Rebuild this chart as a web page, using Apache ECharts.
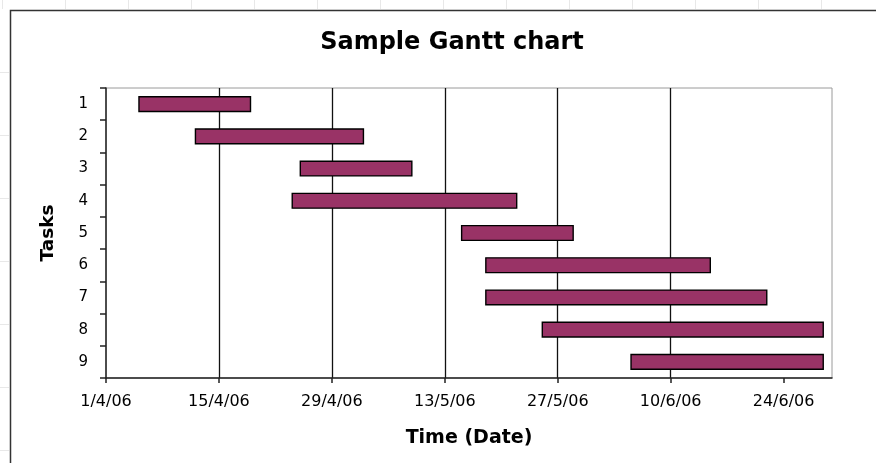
<!DOCTYPE html>
<html>
<head>
<meta charset="utf-8">
<script src="https://cdn.jsdelivr.net/npm/echarts@6/dist/echarts.min.js"></script>
<style>
html,body{margin:0;padding:0;background:#fff;}
#chart{width:876px;height:463px;}
</style>
</head>
<body>
<div id="chart"></div>
<script>
// ---- data ----
var tasks = ['1', '2', '3', '4', '5', '6', '7', '8', '9'];
var startDates = ['2006-04-05', '2006-04-12', '2006-04-25', '2006-04-24', '2006-05-15', '2006-05-18', '2006-05-18', '2006-05-25', '2006-06-05'];
var endDates   = ['2006-04-19', '2006-05-03', '2006-05-09', '2006-05-22', '2006-05-29', '2006-06-15', '2006-06-22', '2006-06-29', '2006-06-29'];
var axisStart = '2006-04-01';
var axisEnd = '2006-06-30';
var tickDates = ['2006-04-01', '2006-04-15', '2006-04-29', '2006-05-13', '2006-05-27', '2006-06-10', '2006-06-24'];

function dayOffset(s) {
  var p = s.split('-');
  var q = axisStart.split('-');
  return Math.round((Date.UTC(+p[0], +p[1] - 1, +p[2]) - Date.UTC(+q[0], +q[1] - 1, +q[2])) / 86400000);
}
function labelFor(v) {
  var q = axisStart.split('-');
  var d = new Date(Date.UTC(+q[0], +q[1] - 1, +q[2]) + v * 86400000);
  return d.getUTCDate() + '/' + (d.getUTCMonth() + 1) + '/' + String(d.getUTCFullYear()).slice(2);
}

var startVals = startDates.map(dayOffset);
var durVals = endDates.map(function (e, i) { return dayOffset(e) - startVals[i]; });
var tickVals = tickDates.map(dayOffset);

var chart = echarts.init(document.getElementById('chart'), null, {renderer: 'canvas'});

var bgLines = [];
for (var x = 2; x < 876; x += 63) {
  bgLines.push({type: 'line', shape: {x1: x + 0.5, y1: 0, x2: x + 0.5, y2: 9}, style: {stroke: '#e8e8e8', lineWidth: 1}, silent: true});
}
[72, 135, 198, 261, 324, 387, 450].forEach(function (y) {
  bgLines.push({type: 'line', shape: {x1: 0, y1: y + 0.5, x2: 9, y2: y + 0.5}, style: {stroke: '#e8e8e8', lineWidth: 1}, silent: true});
});

var option = {
  backgroundColor: '#fff',
  animation: false,
  title: {
    text: 'Sample Gantt chart',
    left: 447,
    top: 26,
    textAlign: 'center',
    textStyle: {fontFamily: 'DejaVu Sans', fontWeight: 'bold', fontSize: 24, color: '#000'}
  },
  graphic: bgLines.concat([{
    type: 'rect',
    shape: {x: 10.5, y: 10.5, width: 900, height: 500},
    style: {fill: 'none', stroke: '#333', lineWidth: 1.5},
    silent: true,
    z: -1
  }]),
  grid: {
    left: 106, right: 44, top: 88, bottom: 85,
    show: true, borderColor: '#9a9a9a', borderWidth: 1, backgroundColor: '#fff'
  },
  xAxis: {
    type: 'value',
    min: 0,
    max: dayOffset(axisEnd),
    interval: 14,
    name: 'Time (Date)',
    nameLocation: 'middle',
    nameGap: 51,
    nameTextStyle: {fontFamily: 'DejaVu Sans', fontWeight: 'bold', fontSize: 19, color: '#000'},
    axisLine: {show: true, lineStyle: {color: '#222', width: 1.5}},
    axisTick: {show: true, length: 5, customValues: tickVals, lineStyle: {color: '#222', width: 1.5}},
    axisLabel: {
      customValues: tickVals,
      margin: 16,
      fontFamily: 'DejaVu Sans', fontSize: 16, color: '#000',
      formatter: function (v) { return labelFor(v); }
    },
    splitLine: {show: true, showMinLine: false, showMaxLine: false, lineStyle: {color: '#111', width: 1.3}}
  },
  yAxis: {
    type: 'category',
    data: tasks,
    inverse: true,
    name: 'Tasks',
    nameLocation: 'middle',
    nameGap: 48,
    nameRotate: 90,
    nameTextStyle: {fontFamily: 'DejaVu Sans', fontWeight: 'bold', fontSize: 18.5, color: '#000'},
    axisLine: {show: true, lineStyle: {color: '#222', width: 1.5}},
    axisTick: {show: true, length: 6, lineStyle: {color: '#222', width: 1.5}},
    axisLabel: {margin: 18, fontFamily: 'DejaVu Sans', fontSize: 15, color: '#000'},
    splitLine: {show: false}
  },
  series: [
    {
      name: 'start',
      type: 'bar',
      stack: 'gantt',
      data: startVals,
      barWidth: '50%',
      itemStyle: {color: 'rgba(0,0,0,0)', borderWidth: 0},
      emphasis: {disabled: true},
      silent: true,
      z: 3
    },
    {
      name: 'duration',
      type: 'bar',
      stack: 'gantt',
      data: durVals,
      barWidth: '50%',
      itemStyle: {color: '#993366', borderColor: '#000', borderWidth: 1.4},
      emphasis: {disabled: true},
      z: 3
    }
  ]
};
chart.setOption(option);
</script>
</body>
</html>
